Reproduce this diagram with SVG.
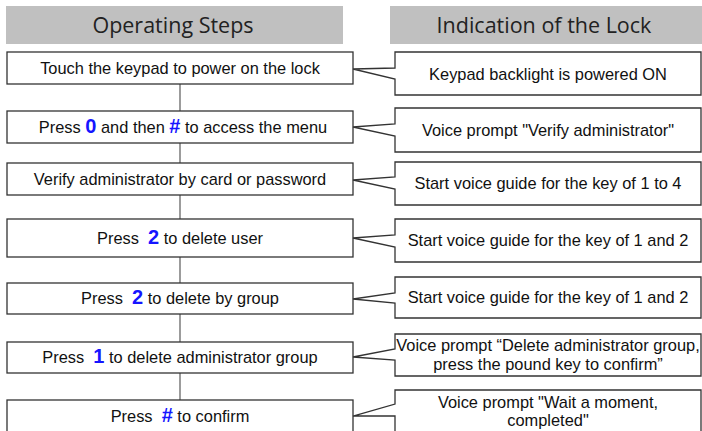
<svg xmlns="http://www.w3.org/2000/svg" width="702" height="431" viewBox="0 0 702 431">
<style>
.hdr{fill:#c0c0c0}
.ht{font-family:"Open Sans","Noto Sans",sans-serif;font-size:21.5px;fill:#222;text-anchor:middle}
.box{fill:#fff;stroke:#333;stroke-width:1.3}
.t{font-family:"Liberation Sans",Arial,sans-serif;font-size:16.4px;fill:#111;text-anchor:middle}
.k{font-weight:bold;fill:#1515ff;font-size:20px}
.con{stroke:#666;stroke-width:1.3;fill:none}
</style>
<rect width="702" height="431" fill="#fff"/>
<g id="header-left"><rect class="hdr" x="6" y="6" width="337" height="38"/><text class="ht" x="173" y="33">Operating Steps</text></g>
<g id="header-right"><rect class="hdr" x="390" y="6" width="312" height="38"/><text class="ht" x="544" y="33">Indication of the Lock</text></g>
<g id="connectors">
<line class="con" x1="180" y1="84" x2="180" y2="111"/>
<line class="con" x1="180" y1="143" x2="180" y2="163"/>
<line class="con" x1="180" y1="195" x2="180" y2="219"/>
<line class="con" x1="180" y1="257" x2="180" y2="283"/>
<line class="con" x1="180" y1="314" x2="180" y2="342"/>
<line class="con" x1="180" y1="373" x2="180" y2="400"/>
</g>
<g id="step1"><rect class="box" x="7" y="52" width="346" height="32"/><text class="t" x="180" y="74">Touch the keypad to power on the lock</text></g>
<g id="step2"><rect class="box" x="7" y="111" width="346" height="32"/><text class="t" x="183" y="133">Press <tspan class="k">0</tspan> and then <tspan class="k">#</tspan> to access the menu</text></g>
<g id="step3"><rect class="box" x="7" y="163" width="346" height="32"/><text class="t" x="180" y="185">Verify administrator by card or password</text></g>
<g id="step4"><rect class="box" x="7" y="219" width="346" height="38"/><text class="t" x="180" y="244" xml:space="preserve">Press  <tspan class="k">2</tspan> to delete user</text></g>
<g id="step5"><rect class="box" x="7" y="283" width="346" height="31"/><text class="t" x="180" y="304" xml:space="preserve">Press  <tspan class="k">2</tspan> to delete by group</text></g>
<g id="step6"><rect class="box" x="7" y="342" width="346" height="31"/><text class="t" x="180" y="363" xml:space="preserve">Press  <tspan class="k">1</tspan> to delete administrator group</text></g>
<g id="step7"><rect class="box" x="7" y="400" width="346" height="40"/><text class="t" x="180" y="422" xml:space="preserve">Press  <tspan class="k">#</tspan> to confirm</text></g>
<g id="ind1"><path class="box" d="M395,52 H701 V95 H395 V79 L353,69 L395,68 Z"/><text class="t" x="548" y="80">Keypad backlight is powered ON</text></g>
<g id="ind2"><path class="box" d="M395,108 H701 V152 H395 V136 L353,127 L395,124 Z"/><text class="t" x="548" y="136">Voice prompt "Verify administrator"</text></g>
<g id="ind3"><path class="box" d="M395,162 H701 V205 H395 V189 L353,180 L395,177 Z"/><text class="t" x="548" y="189">Start voice guide for the key of 1 to 4</text></g>
<g id="ind4"><path class="box" d="M395,219 H701 V262 H395 V247 L353,238 L395,235 Z"/><text class="t" x="548" y="246">Start voice guide for the key of 1 and 2</text></g>
<g id="ind5"><path class="box" d="M395,277 H701 V318 H395 V303 L353,299 L395,293 Z"/><text class="t" x="548" y="303">Start voice guide for the key of 1 and 2</text></g>
<g id="ind6"><path class="box" d="M395,334 H701 V376 H395 V360 L353,357 L395,349 Z"/><text class="t" x="548" y="351">Voice prompt “Delete administrator group,</text><text class="t" x="548" y="370">press the pound key to confirm”</text></g>
<g id="ind7"><path class="box" d="M395,390 H701 V440 H395 V416 L353,416 L395,404 Z"/><text class="t" x="548" y="408">Voice prompt "Wait a moment,</text><text class="t" x="548" y="426">completed"</text></g>
</svg>
